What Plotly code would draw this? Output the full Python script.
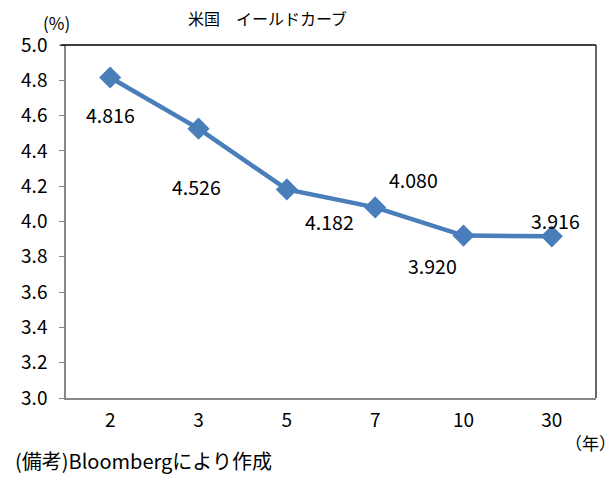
import plotly.graph_objects as go

categories = ["2", "3", "5", "7", "10", "30"]
yields = [4.816, 4.526, 4.182, 4.080, 3.920, 3.916]
y_ticks = [3.0, 3.2, 3.4, 3.6, 3.8, 4.0, 4.2, 4.4, 4.6, 4.8, 5.0]

# label pixel offsets (style only)
label_offsets = [(0, -37), (-2, -58), (43, -32), (38, 28), (-31, -30), (4, 16)]

FONT = "Noto Sans CJK JP"
LINE_COLOR = "#4A7EBB"

fig = go.Figure()
fig.add_trace(go.Scatter(
    x=categories, y=yields, mode="lines+markers",
    line=dict(color=LINE_COLOR, width=4.5),
    marker=dict(symbol="diamond", size=17, color=LINE_COLOR),
    hoverinfo="skip", showlegend=False,
))

for i, (v, (dx, dy)) in enumerate(zip(yields, label_offsets)):
    fig.add_annotation(x=i, y=v, text=f"{v:.3f}", showarrow=False,
                       xshift=dx, yshift=dy, yanchor="middle", xanchor="center",
                       font=dict(family=FONT, size=19.5, color="black"))

fig.add_annotation(xref="paper", yref="paper", x=0.38, y=1.0, yshift=27, yanchor="middle",
                   xanchor="center", text="米国　イールドカーブ", showarrow=False,
                   font=dict(family=FONT, size=16, color="black"))
fig.add_annotation(xref="paper", yref="paper", x=-0.017, y=1.0, yshift=23, yanchor="middle",
                   xanchor="center", text="(%)", showarrow=False,
                   font=dict(family=FONT, size=17, color="black"))
fig.add_annotation(xref="paper", yref="paper", x=1.0, y=0, yshift=-44, xshift=-6,
                   yanchor="middle", xanchor="center", text="（年）", showarrow=False,
                   font=dict(family=FONT, size=17, color="black"))
fig.add_annotation(xref="paper", yref="paper", x=-0.1, y=0, yshift=-62, xanchor="left",
                   yanchor="middle", text="(備考)Bloombergにより作成", showarrow=False,
                   font=dict(family=FONT, size=20, color="black"))

# top and right frame lines
fig.add_shape(type="line", xref="paper", yref="paper", x0=-0.01, x1=1, y0=1, y1=1,
              line=dict(color="black", width=1.5))
fig.add_shape(type="line", xref="paper", yref="paper", x0=1, x1=1, y0=0, y1=1,
              line=dict(color="#333333", width=1.5))

fig.update_layout(
    width=616, height=482,
    margin=dict(l=66, r=20, t=45, b=84),
    paper_bgcolor="white", plot_bgcolor="white",
    font=dict(family=FONT, size=18, color="black"),
    xaxis=dict(type="category", showgrid=False, showline=True, linecolor="#888888",
               linewidth=1.5, ticks="", tickfont=dict(size=19), range=[-0.5, 5.5],
               ticklabelstandoff=4),
    yaxis=dict(range=[3.0, 5.0], tickvals=y_ticks, ticktext=[f"{t:.1f}" for t in y_ticks],
               showgrid=False, showline=True, linecolor="#888888", linewidth=1.5,
               ticks="outside", ticklen=5, tickcolor="#888888", tickfont=dict(size=19),
               zeroline=False, ticklabelstandoff=8),
)

fig.write_html("out.html")
